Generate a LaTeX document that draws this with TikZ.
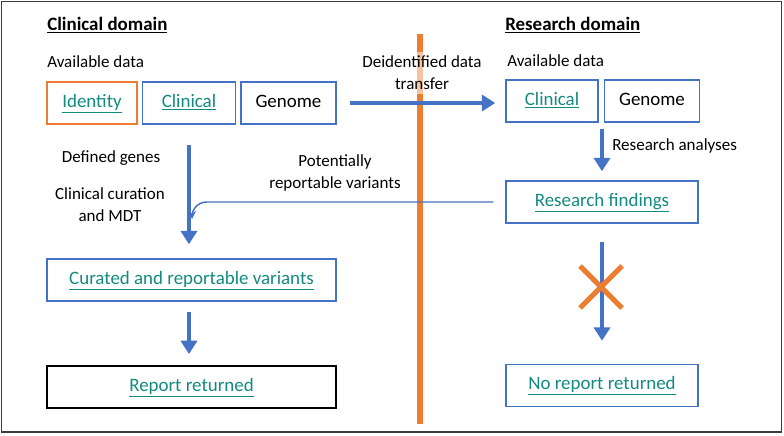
\documentclass[tikz,border=0pt]{standalone}
\usepackage{fontspec}
\setmainfont{Carlito}
\usetikzlibrary{arrows.meta, positioning}
\definecolor{boxblue}{RGB}{68,114,196}
\definecolor{barorange}{RGB}{237,125,49}
\definecolor{linkteal}{RGB}{18,138,128}
\definecolor{framegray}{RGB}{60,60,60}
\newcommand{\lnk}[1]{\textcolor{linkteal}{\underline{#1}}}

\begin{document}
\begin{tikzpicture}[x=0.75pt, y=-0.75pt, node distance=3pt,
    box/.style={draw=boxblue, line width=1.1pt, rectangle, minimum height=31.5pt, text height=10pt, text depth=3.5pt, font=\fontsize{14.2}{17}\selectfont},
    lbl/.style={font=\fontsize{12.75}{16.5}\selectfont, align=center},
    head/.style={font=\fontsize{14.2}{17}\selectfont\bfseries, anchor=west, inner sep=0pt},
    fat/.style={draw=boxblue, line width=3.6pt, -{Triangle[width=12pt, length=10pt]}}]
        \useasboundingbox (0,0) rectangle (784,435);
        \draw [framegray, line width=1.2pt] (1.5,1.5) rectangle (781.5,432);

        % Draw the dividing bar
        \coordinate (bartop) at (420,34);
        \coordinate (barbot) at (420,424);
        \draw [barorange, line width=5.2pt] (bartop) -- (barbot);

        % Draw the clinical blocks
        \node (clinhead) [head] at (47,25) {\underline{Clinical domain}};
        \node (availL)   [lbl, anchor=west, inner sep=0pt] at (47,62) {Available data};
        \node (identity) [box, draw=barorange, minimum width=67.5pt] at (92,103) {\lnk{Identity}};
        \node (clinL)    [box, minimum width=69.75pt, right=of identity] {\lnk{Clinical}};
        \node (genL)     [box, minimum width=71.25pt, right=of clinL] {Genome};
        \node (curated)  [box, minimum width=216.75pt] at (191.5,280) {\lnk{Curated and reportable variants}};
        \node (report)   [box, draw=black, line width=1.4pt, minimum width=216.75pt] at (191.5,387) {\lnk{Report returned}};
        \node (genes)    [lbl] at (111,158) {Defined genes};
        \node (curation) [lbl] at (110,205) {Clinical curation\\and MDT};

        % Draw the research blocks
        \node (reshead)  [head] at (505,25) {\underline{Research domain}};
        \node (availR)   [lbl, anchor=west, inner sep=0pt] at (507,61) {Available data};
        \node (clinR)    [box, minimum width=69pt] at (552,101) {\lnk{Clinical}};
        \node (genR)     [box, minimum width=71.25pt, right=3.75pt of clinR] {Genome};
        \node (findings) [box, minimum width=144pt] at (602,202) {\lnk{Research findings}};
        \node (noreport) [box, minimum width=144pt] at (602,385.5) {\lnk{No report returned}};
        \node (analyses) [lbl, anchor=west, inner sep=0pt] at (612,146) {Research analyses};

        % Labels in between
        \node (transfer)  [lbl, fill=white, fill opacity=0.55, text opacity=1] at (422,73) {Deidentified data\\transfer};
        \node (potential) [lbl] at (335,173) {Potentially\\reportable variants};

        % Draw the connecting arrows
        \draw [fat, shorten <=9.75pt, shorten >=7.5pt] (genL.east) -- (genL.east -| clinR.west);
        \draw [fat, shorten <=15pt, shorten >=10.5pt] (clinL.south) -- (clinL.south |- curated.north);
        \draw [fat, shorten <=7.5pt, shorten >=8.25pt] (clinL.south |- curated.south) -- (clinL.south |- report.north);
        \draw [fat, shorten <=4.5pt, shorten >=6.75pt] (findings.north |- clinR.south) -- (findings.north);
        \draw [fat, shorten <=13.5pt, shorten >=17.25pt] (findings.south) -- (noreport.north);

        % Feedback line
        \coordinate (merge) at (192,219);
        \draw [boxblue, line width=1.1pt, rounded corners=11pt, -{Stealth[length=6pt, width=6pt]}, shorten <=9pt] (findings.west) -| (merge);

        % Cross on the blocked arrow
        \coordinate (stop) at (601,287);
        \draw [barorange, line width=3.8pt] ([shift={(-21,-21)}]stop) -- ([shift={(21,21)}]stop);
        \draw [barorange, line width=3.8pt] ([shift={(-21,21)}]stop) -- ([shift={(21,-21)}]stop);
    \end{tikzpicture}
\end{document}
